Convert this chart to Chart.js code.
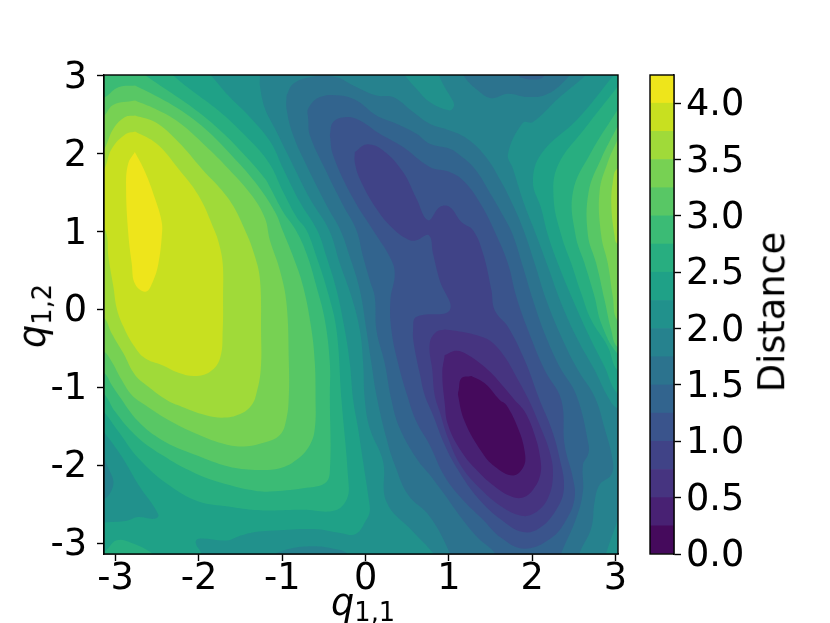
<!DOCTYPE html>
<html>
<head>
<meta charset="utf-8">
<script src="https://cdn.jsdelivr.net/npm/chart.js@4"></script>
<style>
  html, body { margin: 0; padding: 0; background: #fff; overflow: hidden; }
  #wrap { position: relative; width: 830px; height: 623px; overflow: hidden; }
  canvas { position: absolute; left: 0; top: 0; }
  .lab { position: absolute; font: 36.7px "DejaVu Sans"; color: #000; white-space: nowrap; line-height: 40px; }
  .lab sub { font-size: 25.7px; line-height: 0; vertical-align: -6px; }
</style>
</head>
<body>
<div id="wrap">
  <canvas id="contour" width="830" height="623"></canvas>
  <canvas id="colorbar" width="830" height="623"></canvas>
  <div class="lab" id="xlab" style="left:331px;top:583px"><i>q</i><sub>1,1</sub></div>
  <div class="lab" id="ylab" style="left:1px;top:296px;transform:rotate(-90deg)"><i>q</i><sub>1,2</sub></div>
  <div class="lab" style="left:692px;top:292px;transform:rotate(-90deg)">Distance</div>
</div>
<script>
'use strict';

// axis ticks
const xTicks = [-3, -2, -1, 0, 1, 2, 3];
const yTicks = [-3, -2, -1, 0, 1, 2, 3];
const barTicks = [0, 0.5, 1, 1.5, 2, 2.5, 3, 3.5, 4];

// contour bands, 0.25 wide
const bandEdges = [0, 0.25, 0.5, 0.75, 1, 1.25, 1.5, 1.75, 2, 2.25, 2.5, 2.75, 3, 3.25, 3.5, 3.75, 4, 4.25];
const bandColors = ['#450a5c', '#482173', '#463480', '#404387', '#3a548c', '#32648e', '#2c738e', '#26828e',
  '#21918c', '#1fa187', '#28ae80', '#3bbb75', '#58c765', '#77d153', '#a0da39', '#c8e020', '#eee51b'];

// contour outlines, [q11, q12]
const whole = [[-3.5, -3.5], [3.5, -3.5], [3.5, 3.5], [-3.5, 3.5]];

const left8 = [[-1.29, 3.1], [-1.269, 2.995], [-1.269, 2.876], [-1.207, 2.576], [-1.087, 2.32], [-0.909, 1.935], [-0.669, 1.423], [-0.437, 1.017], [-0.309, 0.59], [-0.169, 0.162], [-0.069, -0.265], [-0.029, -0.692], [-0.009, -1.162], [0.05, -1.525], [0.21, -1.953], [0.25, -2.47], [0.57, -2.854], [0.81, -3.128], [0.86, -3.25], [-3.2, -3.25], [-3.2, 3.1]];
const right8 = [[2.71, 3.1], [2.629, 2.995], [2.309, 2.705], [2.009, 2.405], [1.889, 2.397], [1.709, 2.0], [1.769, 1.807], [1.909, 1.337], [2.049, 0.953], [2.189, 0.547], [2.349, 0.077], [2.549, -0.393], [2.749, -0.778], [2.908, -1.12], [3.02, -1.269], [3.2, -1.3], [3.2, 3.1]];
const corner8 = [[3.02, -2.722], [2.888, -3.128], [2.86, -3.25], [3.2, -3.25], [3.2, -2.7]];
const top8 = [[0.4, 3.1], [0.49, 2.982], [0.61, 2.833], [0.77, 2.662], [1.009, 2.555], [1.062, 2.628], [1.01, 2.747], [0.95, 2.854], [0.89, 2.982], [0.85, 3.1]];

const left9 = [[-1.95, 3.1], [-1.847, 2.995], [-1.647, 2.747], [-1.407, 2.491], [-1.147, 2.158], [-0.989, 1.807], [-0.789, 1.38], [-0.581, 1.017], [-0.469, 0.675], [-0.349, 0.248], [-0.249, -0.265], [-0.189, -0.692], [-0.149, -1.162], [-0.09, -1.525], [-0.03, -1.953], [0.042, -2.466], [0.05, -2.594], [0.01, -2.7], [-0.118, -2.884], [-0.29, -2.872], [-0.629, -2.82], [-1.149, -2.842], [-1.327, -2.859], [-1.527, -2.914], [-1.667, -2.966], [-2.007, -2.944], [-2.039, -3.0], [-1.967, -3.141], [-1.95, -3.25], [-3.2, -3.25], [-3.2, -2.74], [-3.135, -2.735], [-2.867, -2.713], [-2.727, -2.666], [-2.535, -2.688], [-2.487, -2.636], [-2.727, -2.252], [-2.927, -1.889], [-3.143, -1.568], [-3.2, -1.5], [-3.2, 3.1]];
const right9 = [[3.05, 3.1], [2.968, 2.995], [2.549, 2.448], [2.109, 2.0], [2.009, 1.636], [2.109, 1.294], [2.189, 0.953], [2.309, 0.59], [2.489, 0.12], [2.669, -0.308], [2.868, -0.735], [3.02, -1.077], [3.2, -1.15], [3.2, 3.1]];

const left10 = [[-2.4, 3.1], [-2.299, 2.995], [-2.087, 2.811], [-1.767, 2.555], [-1.487, 2.277], [-1.167, 1.893], [-0.989, 1.508], [-0.829, 1.188], [-0.709, 1.017], [-0.589, 0.675], [-0.449, 0.205], [-0.349, -0.265], [-0.289, -1.162], [-0.209, -2.166], [-0.221, -2.423], [-0.369, -2.581], [-0.749, -2.572], [-1.149, -2.581], [-1.367, -2.572], [-1.647, -2.53], [-2.007, -2.466], [-2.367, -2.252], [-2.727, -1.91], [-2.967, -1.568], [-3.143, -1.312], [-3.2, -1.28], [-3.2, 3.1]];
const corner10 = [[-3.2, -3.2], [-3.2, -3.08], [-3.135, -3.107], [-2.987, -2.965], [-2.807, -3.0], [-2.567, -3.128], [-2.527, -3.2]];
const right10 = [[3.02, 2.854], [2.629, 2.32], [2.309, 1.85], [2.257, 1.423], [2.349, 0.953], [2.469, 0.59], [2.589, 0.205], [2.709, -0.137], [2.908, -0.479], [3.02, -0.778], [3.2, -0.85], [3.2, 2.95]];

const left11 = [[-2.77, 3.1], [-2.627, 2.995], [-2.407, 2.833], [-2.087, 2.598], [-1.767, 2.32], [-1.487, 2.021], [-1.207, 1.679], [-1.149, 1.572], [-0.989, 1.252], [-0.837, 1.017], [-0.709, 0.718], [-0.589, 0.29], [-0.489, -0.137], [-0.429, -0.692], [-0.429, -1.098], [-0.429, -2.081], [-0.489, -2.231], [-0.749, -2.295], [-1.149, -2.337], [-1.327, -2.329], [-1.647, -2.252], [-2.047, -2.102], [-2.447, -1.867], [-2.767, -1.611], [-3.007, -1.312], [-3.127, -1.098], [-3.2, -1.05], [-3.2, 3.1]];
const right11 = [[3.02, 2.555], [2.709, 2.021], [2.489, 1.508], [2.52, 0.953], [2.629, 0.59], [2.749, 0.162], [2.829, -0.18], [3.02, -0.564], [3.2, -0.65], [3.2, 2.65]];

const left12 = [[-2.767, 2.876], [-2.967, 2.854], [-3.127, 2.726], [-3.2, 2.7], [-3.2, -0.85], [-3.135, -0.82], [-3.047, -0.97], [-2.967, -1.098], [-2.727, -1.44], [-2.447, -1.675], [-2.047, -1.867], [-1.647, -2.017], [-1.327, -2.06], [-1.029, -2.038], [-0.829, -1.931], [-0.669, -1.739], [-0.609, -1.525], [-0.601, -1.098], [-0.609, -0.692], [-0.649, -0.265], [-0.749, 0.29], [-0.869, 0.675], [-0.997, 1.017], [-1.087, 1.252], [-1.327, 1.636], [-1.607, 1.978], [-1.927, 2.32], [-2.247, 2.576], [-2.567, 2.769]];
const right12 = [[3.02, 2.341], [2.828, 1.936], [2.677, 1.508], [2.669, 0.953], [2.769, 0.59], [2.869, 0.12], [2.948, -0.265], [3.02, -0.479], [3.2, -0.55], [3.2, 2.45]];

const left13 = [[-2.767, 2.683], [-3.027, 2.628], [-3.135, 2.491], [-3.2, 2.45], [-3.2, -0.55], [-3.135, -0.543], [-3.047, -0.671], [-2.927, -0.906], [-2.807, -1.098], [-2.647, -1.226], [-2.367, -1.419], [-2.047, -1.589], [-1.727, -1.718], [-1.487, -1.76], [-1.247, -1.718], [-1.029, -1.611], [-0.949, -1.397], [-0.921, -1.098], [-0.921, -0.692], [-0.949, 0.077], [-1.029, 0.504], [-1.149, 0.889], [-1.207, 1.166], [-1.367, 1.465], [-1.647, 1.807], [-1.927, 2.106], [-2.247, 2.406], [-2.527, 2.576]];
const right13 = [[3.02, 2.17], [2.908, 1.893], [2.808, 1.508], [2.828, 0.953], [2.908, 0.59], [2.968, 0.162], [3.02, -0.137], [3.2, -0.2], [3.2, 2.25]];

const left14 = [[-2.767, 2.491], [-2.887, 2.47], [-3.027, 2.32], [-3.135, 2.064], [-3.2, 2.0], [-3.2, -0.2], [-3.135, -0.115], [-3.047, -0.308], [-2.907, -0.564], [-2.767, -0.842], [-2.607, -0.992], [-2.387, -1.162], [-2.207, -1.248], [-1.927, -1.354], [-1.687, -1.389], [-1.487, -1.333], [-1.367, -1.226], [-1.315, -1.098], [-1.259, -0.778], [-1.255, -0.265], [-1.267, 0.376], [-1.327, 0.675], [-1.447, 1.017], [-1.647, 1.423], [-1.967, 1.807], [-2.247, 2.149], [-2.527, 2.405]];
const right14 = [[3.2, 1.83], [3.02, 1.807], [2.968, 1.636], [2.95, 1.337], [2.988, 0.953], [3.02, 0.846], [3.2, 0.8]];

const left15 = [[-2.767, 2.286], [-2.887, 2.247], [-3.047, 2.064], [-3.135, 1.807], [-3.2, 1.75], [-3.2, 1.1], [-3.115, 0.995], [-3.087, 0.675], [-3.027, 0.29], [-2.987, 0.013], [-2.907, -0.22], [-2.787, -0.457], [-2.647, -0.628], [-2.447, -0.714], [-2.247, -0.812], [-2.047, -0.855], [-1.867, -0.8], [-1.747, -0.628], [-1.715, -0.265], [-1.711, 0.162], [-1.715, 0.59], [-1.76, 0.846], [-1.815, 1.017], [-2.007, 1.465], [-2.247, 1.807], [-2.507, 2.128]];

const peak16 = [[-2.77, 2.02], [-2.85, 1.87], [-2.875, 1.59], [-2.85, 0.995], [-2.807, 0.59], [-2.767, 0.325], [-2.64, 0.227], [-2.547, 0.376], [-2.487, 0.59], [-2.447, 0.93], [-2.447, 1.12], [-2.527, 1.42], [-2.647, 1.765]];

const leftDip7 = [[-3.143, -1.889], [-3.087, -2.038], [-3.027, -2.209], [-3.067, -2.359], [-3.135, -2.431], [-3.2, -2.45], [-3.2, -1.85]];
const bottomDip7 = [[-1.069, -3.128], [-0.909, -3.072], [-0.629, -3.042], [-0.389, -3.072], [-0.229, -3.128], [-0.2, -3.25], [-1.1, -3.25]];

const basin6 = [[-0.949, 2.747], [-0.869, 2.897], [-0.669, 2.982], [-0.349, 2.982], [-0.149, 2.876], [0.13, 2.747], [0.33, 2.726], [0.57, 2.534], [0.77, 2.384], [1.009, 2.299], [1.19, 2.213], [1.43, 1.978], [1.63, 1.636], [1.789, 1.294], [1.897, 1.017], [2.03, 0.59], [2.169, 0.12], [2.349, -0.35], [2.549, -0.778], [2.749, -1.12], [2.869, -1.525], [2.968, -1.953], [2.948, -2.124], [2.809, -2.252], [2.749, -2.466], [2.709, -2.807], [2.569, -3.128], [2.55, -3.25], [1.01, -3.25], [1.01, -3.128], [0.77, -2.658], [0.51, -2.38], [0.35, -1.995], [0.25, -1.654], [0.13, -1.098], [0.07, -0.692], [0.01, -0.265], [-0.069, 0.248], [-0.189, 0.675], [-0.302, 1.017], [-0.469, 1.338], [-0.709, 1.85], [-0.869, 2.235], [-0.949, 2.576]];
const topDip6 = [[1.15, 3.1], [1.19, 2.982], [1.35, 2.811], [1.51, 2.713], [1.709, 2.769], [1.949, 2.726], [2.189, 2.769], [2.429, 2.982], [2.48, 3.1]];

const basin5 = [[-0.689, 2.448], [-0.689, 2.576], [-0.549, 2.726], [-0.309, 2.747], [-0.109, 2.683], [0.13, 2.491], [0.37, 2.384], [0.61, 2.256], [0.77, 2.128], [1.009, 2.064], [1.11, 1.999], [1.31, 1.807], [1.51, 1.465], [1.67, 1.166], [1.769, 0.953], [1.889, 0.547], [2.009, 0.12], [2.149, -0.308], [2.329, -0.735], [2.529, -1.098], [2.677, -1.739], [2.669, -1.867], [2.609, -1.995], [2.609, -2.337], [2.529, -2.679], [2.349, -3.128], [2.31, -3.25], [1.56, -3.25], [1.55, -3.128], [1.35, -2.936], [1.15, -2.679], [0.95, -2.38], [0.77, -2.124], [0.61, -1.91], [0.41, -1.525], [0.31, -1.162], [0.23, -0.692], [0.13, -0.265], [0.11, 0.162], [0.05, 0.376], [-0.03, 0.675], [-0.11, 1.017], [-0.27, 1.337], [-0.469, 1.764], [-0.669, 2.235]];
const topDip5 = [[1.849, 2.982], [1.989, 2.953], [2.129, 2.982], [2.15, 3.1], [1.83, 3.1]];

const basin4 = [[-0.429, 2.235], [-0.389, 2.406], [-0.229, 2.47], [-0.07, 2.427], [0.17, 2.256], [0.45, 2.085], [0.77, 1.829], [1.009, 1.764], [1.19, 1.636], [1.39, 1.337], [1.57, 0.953], [1.709, 0.59], [1.81, 0.162], [1.949, -0.265], [2.149, -0.778], [2.349, -1.162], [2.389, -1.739], [2.489, -2.166], [2.509, -2.423], [2.409, -2.701], [2.229, -2.936], [1.909, -3.072], [1.63, -2.936], [1.39, -2.679], [1.15, -2.423], [0.95, -2.145], [0.769, -1.739], [0.61, -1.44], [0.498, -1.098], [0.39, -0.692], [0.31, -0.265], [0.298, 0.12], [0.35, 0.461], [0.29, 0.675], [0.09, 1.017], [-0.149, 1.423], [-0.389, 1.978]];

const basin3 = [[-0.129, 2.021], [0.01, 2.119], [0.21, 2.042], [0.45, 1.764], [0.61, 1.423], [0.75, 1.145], [0.89, 1.316], [1.009, 1.316], [1.15, 1.123], [1.29, 1.017], [1.41, 0.718], [1.51, 0.248], [1.55, -0.009], [1.709, -0.222], [1.909, -0.65], [2.089, -1.162], [2.229, -1.525], [2.329, -1.91], [2.381, -2.295], [2.289, -2.572], [2.089, -2.807], [1.889, -2.859], [1.63, -2.701], [1.35, -2.423], [1.11, -2.06], [0.95, -1.739], [0.809, -1.354], [0.709, -1.098], [0.65, -0.82], [0.578, -0.436], [0.57, -0.265], [0.61, -0.094], [1.01, -0.009], [0.889, 0.376], [0.809, 0.718], [0.76, 0.953], [0.61, 0.889], [0.53, 0.889], [0.35, 1.017], [0.13, 1.294], [-0.07, 1.679], [-0.13, 1.893]];

const basin2 = [[0.95, -0.256], [1.15, -0.286], [1.39, -0.35], [1.51, -0.415], [1.67, -0.607], [1.809, -0.863], [1.949, -1.141], [2.089, -1.483], [2.209, -1.824], [2.249, -2.124], [2.189, -2.423], [2.029, -2.615], [1.869, -2.649], [1.63, -2.53], [1.39, -2.316], [1.15, -2.017], [0.99, -1.654], [0.889, -1.312], [0.829, -1.098], [0.801, -0.778], [0.769, -0.436], [0.849, -0.286]];

const basin1 = [[0.95, -0.586], [1.09, -0.53], [1.23, -0.586], [1.47, -0.778], [1.69, -1.034], [1.789, -1.162], [1.91, -1.312], [2.03, -1.611], [2.097, -1.91], [2.097, -2.124], [2.01, -2.316], [1.89, -2.414], [1.75, -2.402], [1.55, -2.273], [1.35, -2.081], [1.15, -1.824], [0.99, -1.483], [0.95, -1.2], [0.921, -0.82]];

const basin0 = [[1.27, -0.855], [1.15, -0.885], [1.118, -1.034], [1.11, -1.098], [1.19, -1.44], [1.39, -1.824], [1.55, -2.017], [1.77, -2.132], [1.897, -2.017], [1.91, -1.824], [1.83, -1.525], [1.69, -1.226], [1.61, -1.162], [1.43, -0.949]];

// painted in this order, each outline filled with its band colour
const layers = [
  [7, whole],
  [8, left8], [8, right8], [8, corner8], [8, top8],
  [9, left9], [9, right9],
  [10, left10], [10, corner10], [10, right10],
  [11, left11], [11, right11],
  [12, left12], [12, right12],
  [13, left13], [13, right13],
  [14, left14], [14, right14],
  [15, left15],
  [16, peak16],
  [7, leftDip7], [7, bottomDip7],
  [6, basin6], [6, topDip6],
  [5, basin5], [5, topDip5],
  [4, basin4], [3, basin3], [2, basin2], [1, basin1], [0, basin0]
];

Chart.defaults.font.family = '"DejaVu Sans"';
Chart.defaults.color = '#000';
Chart.defaults.animation = false;

// top and right spines, chart.js only has the axis lines
const frame = {
  id: 'frame',
  afterDraw(chart) {
    const a = chart.chartArea;
    const ctx = chart.ctx;
    ctx.save();
    ctx.strokeStyle = '#000';
    ctx.lineWidth = 1.4;
    ctx.strokeRect(a.left, a.top, a.right - a.left, a.bottom - a.top);
    ctx.restore();
  }
};

// canvas 'middle' sits above the digit centres, push the y labels down a bit
const centerDigits = {
  id: 'centerDigits',
  beforeDraw(chart) {
    chart.scales.y.getLabelItems().forEach(item => {
      item.options.translation[1] += 2.5;
    });
  }
};

function layerDataset(layer, i) {
  let pts = layer[1].map(p => ({ x: p[0], y: p[1] }));
  pts.push(pts[0]);
  return {
    data: pts,
    showLine: true,
    fill: 'shape',
    backgroundColor: bandColors[layer[0]],
    borderWidth: 0,
    pointRadius: 0,
    tension: layer[1] === whole ? 0 : 0.4,
    order: layers.length - i
  };
}

function renderContour() {
  new Chart(document.getElementById('contour'), {
    type: 'scatter',
    data: { datasets: layers.map(layerDataset) },
    plugins: [frame, centerDigits],
    options: {
      responsive: false,
      layout: { padding: { top: 75, right: 212 } },
      plugins: { legend: { display: false }, tooltip: { enabled: false } },
      scales: {
        x: {
          type: 'linear', min: -3.14, max: 3.03,
          afterBuildTicks: s => { s.ticks = xTicks.map(v => ({ value: v })); },
          afterFit: s => { s.height = 69; },
          grid: { drawOnChartArea: false, tickLength: 7, tickColor: '#000', tickWidth: 1.4 },
          border: { color: '#000', width: 1.4 },
          ticks: { font: { size: 36.7 }, padding: -4, maxRotation: 0, autoSkip: false, callback: v => String(v) }
        },
        y: {
          type: 'linear', min: -3.14, max: 3.01,
          afterBuildTicks: s => { s.ticks = yTicks.map(v => ({ value: v })); },
          afterFit: s => { s.width = 104; },
          grid: { drawOnChartArea: false, tickLength: 7, tickColor: '#000', tickWidth: 1.4 },
          border: { color: '#000', width: 1.4 },
          ticks: { font: { size: 36.7 }, padding: 10, autoSkip: false, callback: v => String(v) }
        }
      }
    }
  });
}

function renderColorbar() {
  let datasets = [];
  for (let i = 0; i < bandColors.length; i++) {
    datasets.push({
      data: [[bandEdges[i], bandEdges[i + 1]]],
      backgroundColor: bandColors[i],
      barPercentage: 1,
      categoryPercentage: 1,
      grouped: false
    });
  }
  new Chart(document.getElementById('colorbar'), {
    type: 'bar',
    data: { labels: ['Distance'], datasets: datasets },
    plugins: [frame, centerDigits],
    options: {
      responsive: false,
      layout: { padding: { top: 75, left: 650, bottom: 69 } },
      plugins: { legend: { display: false }, tooltip: { enabled: false } },
      scales: {
        x: { display: false },
        y: {
          position: 'right', min: 0, max: 4.25,
          afterBuildTicks: s => { s.ticks = barTicks.map(v => ({ value: v })); },
          afterFit: s => { s.width = 156; },
          grid: { drawOnChartArea: false, tickLength: 7, tickColor: '#000', tickWidth: 1.4 },
          border: { color: '#000', width: 1.4 },
          ticks: { font: { size: 36.7 }, padding: 5, autoSkip: false, callback: v => v.toFixed(1) }
        }
      }
    }
  });
}

renderContour();
renderColorbar();
</script>
</body>
</html>
